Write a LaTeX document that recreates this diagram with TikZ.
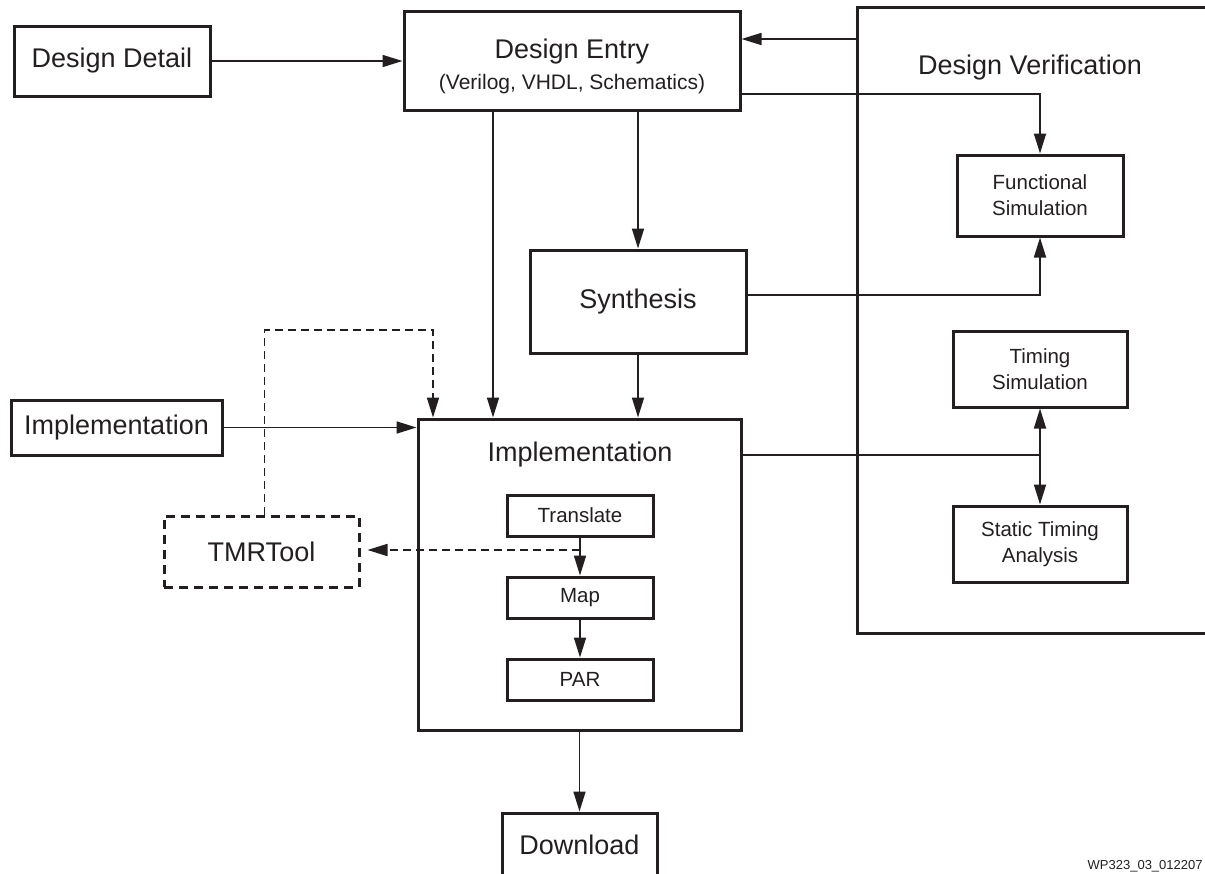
\documentclass[tikz,border=0pt]{standalone}
\usepackage{fontspec}
\setmainfont{Liberation Sans}
\usetikzlibrary{arrows.meta}

\definecolor{ink}{HTML}{231F20}

\tikzset{
  box/.style={draw=ink,line width=1.5pt,rectangle,inner sep=0pt,text=ink,
    font=\fontsize{13.5}{16}\selectfont,align=center},
  smallbox/.style={box,font=\fontsize{10.25}{13}\selectfont},
  dashbox/.style={box,dash pattern=on 4.5pt off 3pt},
  arr/.style={draw=ink,line width=0.85pt,-{Triangle[length=10pt,width=6pt]}},
  line/.style={draw=ink,line width=0.85pt},
  dasharr/.style={arr,dash pattern=on 4pt off 2.5pt}
}

\begin{document}
\begin{tikzpicture}[x=0.5pt,y=-0.5pt]

      \useasboundingbox (0,0) rectangle (1205,873);

      % boxes
      \node[box,minimum width=98pt,minimum height=35pt]  (detail) at (112,61)   {Design Detail};
      \node[box,minimum width=168pt,minimum height=49.5pt]  (entry)  at (572,60.5)
        {\rule{0pt}{16pt}Design Entry\\[-0.5pt]{\fontsize{10.5}{12}\selectfont (Verilog, VHDL, Schematics)}};
      \node[box,minimum width=186.5pt,minimum height=313pt] (verif)  at (1043.5,320) {};
      \node[text=ink,font=\fontsize{13.5}{16}\selectfont] (veriflabel) at (1030,68) {Design Verification};
      \node[smallbox,minimum width=83pt,minimum height=40.5pt] (func) at (1040,195.5) {Functional\\Simulation};
      \node[box,minimum width=108pt,minimum height=51.5pt] (synth) at (638,301.5) {Synthesis};
      \node[box,minimum width=105.5pt,minimum height=27.5pt]  (impin)  at (116.5,427.5) {Implementation};
      \node[box,minimum width=161.5pt,minimum height=155.5pt] (impl)   at (579.5,574.5) {};
      \node[text=ink,font=\fontsize{13.5}{16}\selectfont] (impllabel) at (580,455) {Implementation};
      \node[smallbox,minimum width=73pt,minimum height=20.5pt] (translate) at (580,515.5) {Translate};
      \node[smallbox,minimum width=73pt,minimum height=20.5pt] (map)       at (580,597.5) {Map};
      \node[smallbox,minimum width=73pt,minimum height=20.5pt] (par)       at (580,679.5) {PAR};
      \node[dashbox,minimum width=97.5pt,minimum height=35.5pt] (tmr) at (261.5,551.5) {TMRTool};
      \node[smallbox,minimum width=87pt,minimum height=38pt] (timing) at (1040,369) {Timing\\Simulation};
      \node[smallbox,minimum width=87pt,minimum height=38pt] (sta)    at (1040,544) {Static Timing\\Analysis};
      \node[box,minimum width=77.5pt,minimum height=32pt] (download) at (579.5,845) {Download};
      \node[text=ink,font=\fontsize{6.5}{8}\selectfont,anchor=base east,inner sep=0pt] (wp) at (1203,869) {WP323\_03\_012207};

      % junctions
      \coordinate (vin) at (857,39);
      \coordinate (efun) at (1040,94);
      \coordinate (eimp) at (493,0);
      \coordinate (sfun) at (1040,295);
      \coordinate (tjoin) at (1040,455);
      \coordinate (dtop) at (433,330);
      \coordinate (tmap) at (580,550);

      % connectors
      \draw[arr] (detail) -- (entry.west |- detail);
      \draw[arr] (vin) -- (entry.east |- vin);
      \draw[arr] (entry.east |- efun) -| (func.north);
      \draw[arr] (entry.south -| synth) -- (synth.north);
      \draw[arr] (entry.south -| eimp) -- (impl.north -| eimp);
      \draw[arr] (synth.south) -- (impl.north -| synth);
      \draw[arr] (synth.east |- sfun) -| (func.south);
      \draw[arr] (impin.east) -- (impl.west |- impin.east);
      \draw[line] (impl.east |- tjoin) -- (tjoin);
      \draw[arr] (tjoin) -- (timing.south);
      \draw[arr] (tjoin) -- (sta.north);
      \draw[arr] (translate) -- (map);
      \draw[arr] (map) -- (par);
      \draw[arr] (impl.south) -- (download.north);
      \draw[dasharr] ([xshift=1.5pt]tmr.north) |- (dtop) -- (impl.north -| dtop);
      \draw[dasharr,shorten >=3.5pt] (tmap) -- (tmr.east |- tmap);

    \end{tikzpicture}
\end{document}
